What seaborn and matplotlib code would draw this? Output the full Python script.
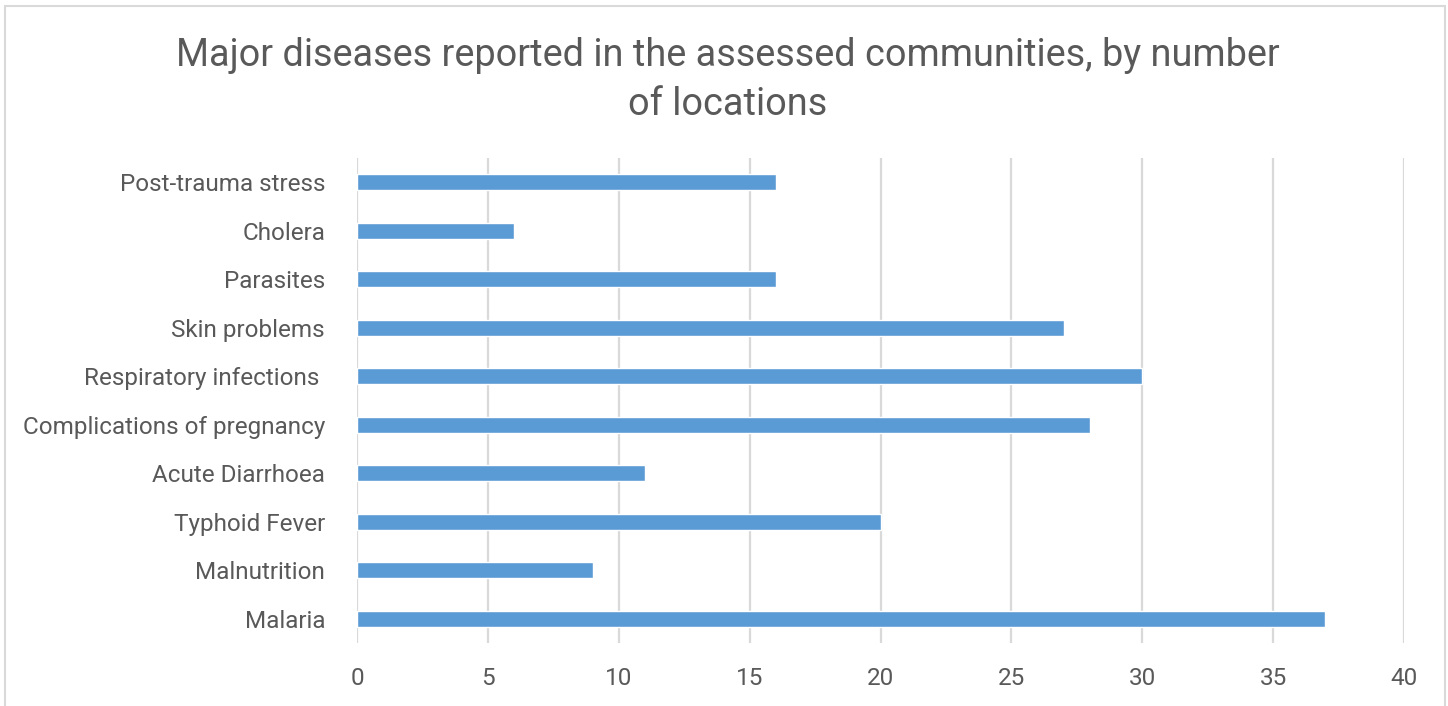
import matplotlib
matplotlib.use("Agg")
import matplotlib.pyplot as plt
from matplotlib.patches import Rectangle
import seaborn as sns
import pandas as pd

diseases = [
    "Post-trauma stress",
    "Cholera",
    "Parasites",
    "Skin problems",
    "Respiratory infections ",
    "Complications of pregnancy",
    "Acute Diarrhoea",
    "Typhoid Fever",
    "Malnutrition",
    "Malaria",
]
locations = [16, 6, 16, 27, 30, 28, 11, 20, 9, 37]
x_ticks = [0, 5, 10, 15, 20, 25, 30, 35, 40]

title = "Major diseases reported in the assessed communities, by number\nof locations"

sns.set_theme(style="white")
plt.rcParams["font.family"] = ["Roboto", "DejaVu Sans"]

text_color = "#595959"
grid_color = "#d9d9d9"
bar_color = "#5b9bd5"

df = pd.DataFrame({"disease": diseases, "locations": locations})

fig = plt.figure(figsize=(14.48, 7.06), dpi=100)
ax = fig.add_axes([357 / 1448, 1 - 643 / 706, (1404 - 357) / 1448, (643 - 158) / 706])

sns.barplot(data=df, x="locations", y="disease", orient="h", color=bar_color,
            width=0.33, saturation=1, ax=ax, zorder=3)

ax.set_xlim(0, 40)
ax.set_ylim(len(diseases) - 0.5, -0.5)
ax.set_xticks(x_ticks)
ax.set_xticklabels([str(t) for t in x_ticks])
ax.xaxis.grid(True, color=grid_color, linewidth=1.6, zorder=0)
ax.yaxis.grid(False)
for s in ax.spines.values():
    s.set_visible(False)
ax.set_xlabel("")
ax.set_ylabel("")
ax.tick_params(axis="y", length=0, pad=23, labelsize=17.5, labelcolor=text_color)
ax.tick_params(axis="x", length=0, pad=17.5, labelsize=17.5, labelcolor=text_color)

fig.text(0.5025, 1 - 80 / 706, title, ha="center", va="center", fontsize=27.3,
         color=text_color, linespacing=1.38)

# light frame around the chart area
fig.patches.append(Rectangle((5 / 1448, -0.02), 1440 / 1448, 1 - 6 / 706 + 0.02,
                             transform=fig.transFigure, fill=False,
                             edgecolor=grid_color, linewidth=1.5))

fig.savefig("out.png", dpi=100, facecolor="white")
